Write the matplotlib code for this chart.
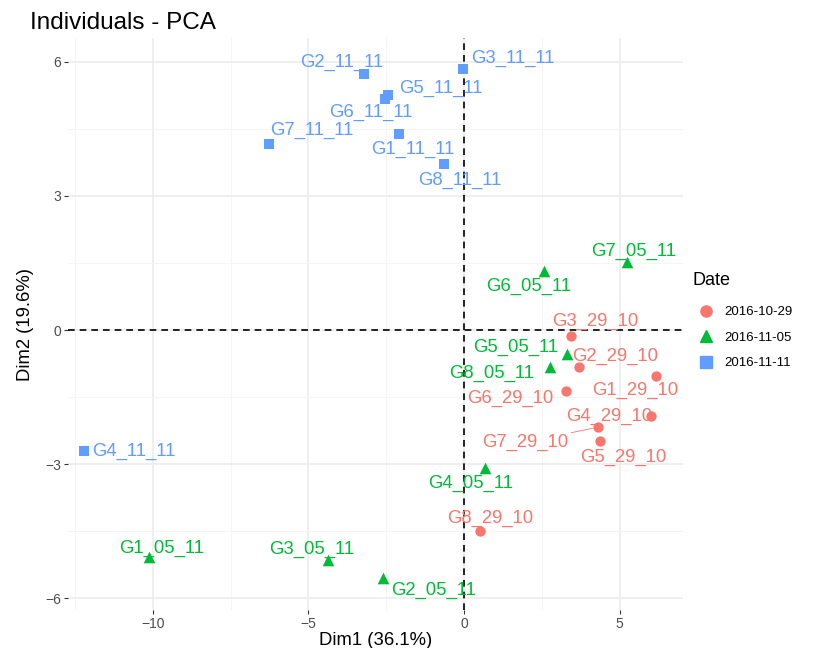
import matplotlib
matplotlib.use("Agg")
import matplotlib.pyplot as plt
from matplotlib.lines import Line2D

plt.rcParams['font.family'] = ['Liberation Sans', 'DejaVu Sans']

# ---- data ----
dates = ["2016-10-29", "2016-11-05", "2016-11-11"]

names_1029 = ["G1_29_10", "G2_29_10", "G3_29_10", "G4_29_10", "G5_29_10", "G6_29_10", "G7_29_10", "G8_29_10"]
dim1_1029 = [6.17, 3.70, 3.44, 6.00, 4.37, 3.28, 4.31, 0.51]
dim2_1029 = [-1.03, -0.83, -0.13, -1.92, -2.48, -1.36, -2.17, -4.50]

names_0511 = ["G1_05_11", "G2_05_11", "G3_05_11", "G4_05_11", "G5_05_11", "G6_05_11", "G7_05_11", "G8_05_11"]
dim1_0511 = [-10.13, -2.60, -4.37, 0.68, 3.31, 2.57, 5.24, 2.77]
dim2_0511 = [-5.08, -5.55, -5.15, -3.09, -0.54, 1.32, 1.52, -0.83]

names_1111 = ["G1_11_11", "G2_11_11", "G3_11_11", "G4_11_11", "G5_11_11", "G6_11_11", "G7_11_11", "G8_11_11"]
dim1_1111 = [-2.09, -3.22, -0.03, -12.22, -2.44, -2.54, -6.27, -0.64]
dim2_1111 = [4.38, 5.73, 5.84, -2.71, 5.26, 5.17, 4.16, 3.71]

x_ticks = [-10, -5, 0, 5]
y_ticks = [-6, -3, 0, 3, 6]

# ---- styling / label placement (pixel offsets, label centre relative to point) ----
colors = ["#F8766D", "#00BA38", "#619CFF"]
markers = ["o", "^", "s"]
label_offsets = {
    "G3_11_11": (50, 11), "G2_11_11": (-22, 12), "G5_11_11": (53, 7), "G6_11_11": (-14, -13),
    "G7_11_11": (43, 14), "G1_11_11": (14, -15), "G8_11_11": (16, -16), "G4_11_11": (50, 0),
    "G7_05_11": (7, 11), "G6_05_11": (-15, -15), "G5_05_11": (-51, 7), "G8_05_11": (-59, -6),
    "G4_05_11": (-15, -15), "G1_05_11": (13, 9), "G3_05_11": (-16, 11), "G2_05_11": (50, -12),
    "G3_29_10": (24, 15), "G2_29_10": (36, 11), "G1_29_10": (-21, -14), "G6_29_10": (-56, -7),
    "G4_29_10": (-42, 0), "G7_29_10": (-73, -15), "G5_29_10": (23, -16), "G8_29_10": (10, 13),
}
segment_labels = {"G7_29_10"}

fig = plt.figure(figsize=(8.28, 6.48), dpi=100)
ax = fig.add_axes([0.082, 0.0586, 0.743, 0.8825])

groups = [(names_1029, dim1_1029, dim2_1029), (names_0511, dim1_0511, dim2_0511),
          (names_1111, dim1_1111, dim2_1111)]

ax.axhline(0, color="black", linestyle=(0, (4, 3)), lw=1.2, zorder=2)
ax.axvline(0, color="black", linestyle=(0, (4, 3)), lw=1.2, zorder=2)

for (names, xs, ys), c, m in zip(groups, colors, markers):
    size = 70 if m == "^" else 55
    ax.scatter(xs, ys, c=c, marker=m, s=size, zorder=3, linewidths=0)
    for n, x, y in zip(names, xs, ys):
        dx, dy = label_offsets.get(n, (0, 12))
        ap = None
        if n in segment_labels:
            ap = dict(arrowstyle="-", color=c, lw=0.6, shrinkA=0, shrinkB=4)
        ax.annotate(n, (x, y), xytext=(dx, dy), textcoords="offset pixels",
                    ha="center", va="center", color=c, fontsize=13.3,
                    zorder=4, arrowprops=ap)

ax.set_xlim(-12.73, 7.04)
ax.set_ylim(-6.26, 6.53)
ax.set_xticks(x_ticks)
ax.set_yticks(y_ticks)
ax.set_xticks([-12.5, -7.5, -2.5, 2.5], minor=True)
ax.set_yticks([-4.5, -1.5, 1.5, 4.5], minor=True)
ax.grid(which="major", color="#EBEBEB", lw=1.1, zorder=0)
ax.grid(which="minor", color="#F4F4F4", lw=0.6, zorder=0)
ax.set_axisbelow(True)
for s in ax.spines.values():
    s.set_visible(False)
ax.tick_params(which="major", length=3, color="#333333", labelsize=10, labelcolor="#4D4D4D", pad=2)
ax.tick_params(which="minor", length=0)

ax.set_xlabel("Dim1 (36.1%)", fontsize=13.3, labelpad=1)
ax.set_ylabel("Dim2 (19.6%)", fontsize=13.3, labelpad=8)
fig.text(0.036, 0.965, "Individuals - PCA", fontsize=17.5, ha="left", va="center")

handles = [Line2D([], [], marker=m, color=c, linestyle="none", markersize=8 if m != "^" else 9)
           for c, m in zip(colors, markers)]
leg = fig.legend(handles, dates, title="Date", loc="center left", bbox_to_anchor=(0.822, 0.505),
                 frameon=False, fontsize=9.5, title_fontsize=13, handletextpad=0.4,
                 labelspacing=1.0)
leg._legend_box.align = "left"
leg._legend_box.sep = 12

fig.savefig("out.png", dpi=100)
